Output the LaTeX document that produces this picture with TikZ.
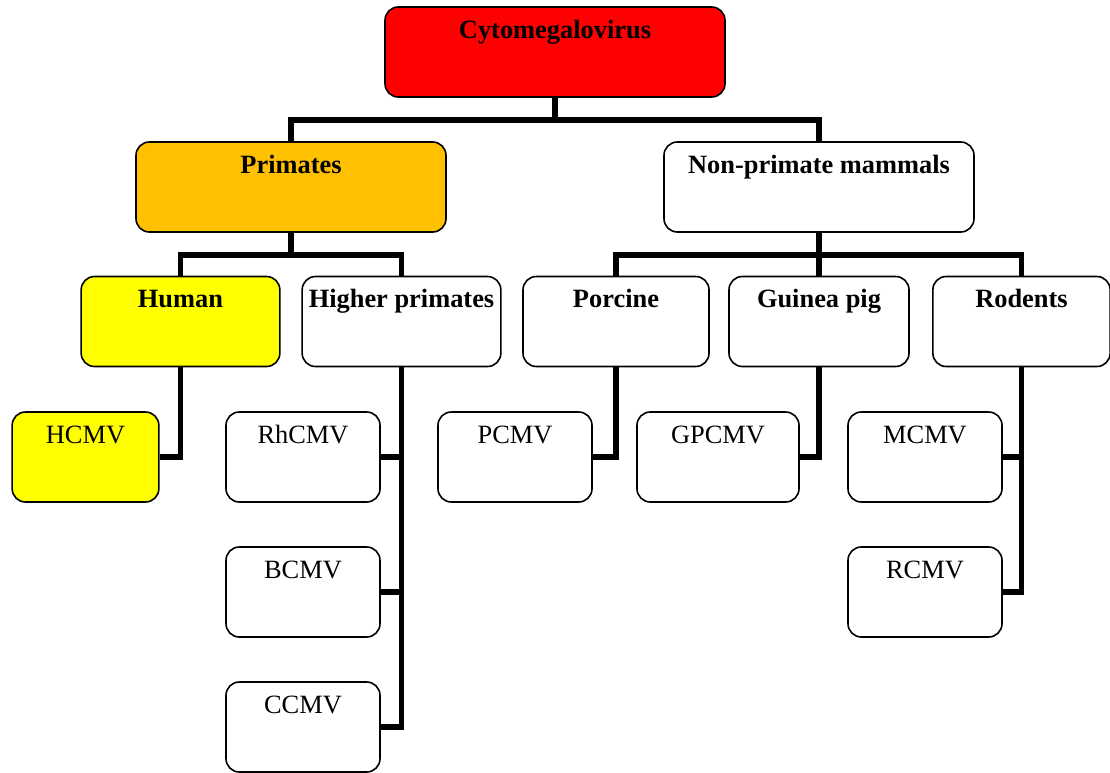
\documentclass[tikz,border=0pt]{standalone}
\usepackage{fontspec}
\setmainfont{Liberation Serif}
\definecolor{virred}{HTML}{FF0000}
\definecolor{primorange}{HTML}{FFC000}
\definecolor{humyellow}{HTML}{FFFF00}
\begin{document}
\begin{tikzpicture}[x=0.75pt, y=-0.75pt,
    box/.style={draw, line width=1.2pt, rounded corners=10pt, fill=white, inner sep=0pt,
      minimum height=67.5pt, text height=23.6pt, text depth=43.9pt,
      font=\fontsize{19.8}{22}\selectfont},
    head/.style={box, font=\fontsize{19.8}{22}\selectfont\bfseries},
    conn/.style={line width=3.8pt}]
  \useasboundingbox (0,0) rectangle (1110,772);
  % top level
  \node[head, fill=virred, minimum width=255pt] (cyto) at (555,52) {Cytomegalovirus};
  \node[head, fill=primorange, minimum width=232.5pt] (prim) at (291,187) {Primates};
  \node[head, minimum width=232.5pt] (npm) at (819,187) {Non-primate mammals};
  % hosts
  \node[head, fill=humyellow, minimum width=149pt] (hum) at (180.5,321.5) {Human};
  \node[head, minimum width=149pt] (hp) at (401.5,321.5) {Higher primates};
  \node[head, minimum width=139.5pt] (por) at (616,321.5) {Porcine};
  \node[head, minimum width=135pt] (gp) at (819,321.5) {Guinea pig};
  \node[head, minimum width=133pt] (rod) at (1021.5,321.5) {Rodents};
  % viruses
  \node[box, fill=humyellow, minimum width=110pt] (hcmv) at (85.5,457) {HCMV};
  \node[box, minimum width=115.5pt] (rh) at (303,457) {RhCMV};
  \node[box, minimum width=115.5pt] (bc) at (303,592) {BCMV};
  \node[box, minimum width=115.5pt] (cc) at (303,727) {CCMV};
  \node[box, minimum width=115.5pt] (pc) at (515,457) {PCMV};
  \node[box, minimum width=121.5pt] (gpc) at (718,457) {GPCMV};
  \node[box, minimum width=115.5pt] (mc) at (925,457) {MCMV};
  \node[box, minimum width=115.5pt] (rc) at (925,592) {RCMV};
  \coordinate (j1) at (555,120);
  \coordinate (j2) at (291,255);
  \coordinate (j3) at (819,255);
  \draw[conn] (cyto.south) -- (j1);
  \draw[conn] (prim.north) |- (j1) -| (npm.north);
  \draw[conn] (prim.south) -- (j2);
  \draw[conn] (hum.north) |- (j2) -| (hp.north);
  \draw[conn] (npm.south) -- (j3);
  \draw[conn] (por.north) |- (j3) -| (rod.north);
  \draw[conn] (j3) -- (gp.north);
  \draw[conn] (hum.south) |- (hcmv.east);
  \draw[conn] (hp.south) |- (cc.east);
  \draw[conn] (rh.east) -- (rh.east -| hp.south);
  \draw[conn] (bc.east) -- (bc.east -| hp.south);
  \draw[conn] (por.south) |- (pc.east);
  \draw[conn] (gp.south) |- (gpc.east);
  \draw[conn] (rod.south) |- (rc.east);
  \draw[conn] (mc.east) -- (mc.east -| rod.south);
\end{tikzpicture}
\end{document}
